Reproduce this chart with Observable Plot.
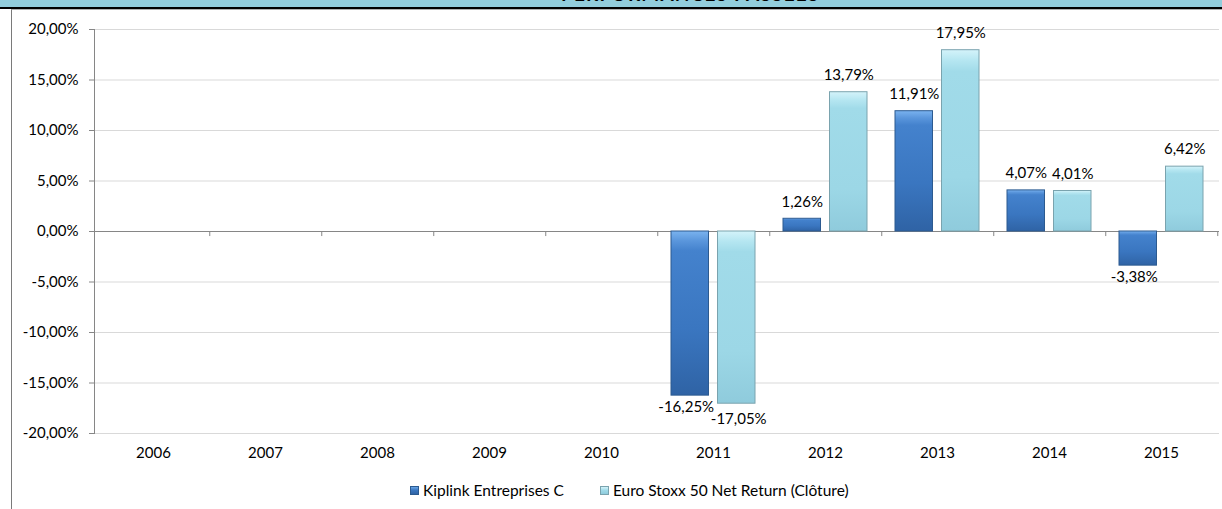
<!DOCTYPE html>
<html>
<head>
<meta charset="utf-8">
<script src="https://cdn.jsdelivr.net/npm/d3@7"></script>
<script src="https://cdn.jsdelivr.net/npm/@observablehq/plot@0.6"></script>
<style>
  html, body { margin: 0; padding: 0; background: #fff; }
  body { width: 1222px; height: 509px; position: relative; overflow: hidden; font-family: Lato, "Open Sans", sans-serif; }
  #header { position: absolute; left: 0; top: 0; width: 1222px; height: 7px; background: #92CDDC; border-bottom: 2px solid #000; overflow: hidden; }
  #header span { position: absolute; left: 561px; top: -18px; font-weight: bold; font-size: 19px; letter-spacing: 1.2px; color: #000; white-space: nowrap; }
  #frame { position: absolute; left: 11px; top: 9px; width: 1300px; height: 600px; border-left: 1.5px solid #7a7a7a; border-top: 1px solid #b0b0b0; }
  #chart { position: absolute; left: 0; top: 0; }
  #legend { position: absolute; top: 481px; left: 410px; display: flex; align-items: center; font-size: 15.5px; color: #000; white-space: nowrap; }
  .item { display: flex; align-items: center; }
  .sw { width: 9px; height: 9px; margin-right: 4px; box-sizing: border-box; }
</style>
</head>
<body>
<div id="header"><span>PERFORMANCES PASSÉES</span></div>
<div id="frame"></div>
<div id="chart"></div>
<div id="legend"></div>
<script>
// ---- data ----
const years = ["2006", "2007", "2008", "2009", "2010", "2011", "2012", "2013", "2014", "2015"];
const seriesNames = ["Kiplink Entreprises C", "Euro Stoxx 50 Net Return (Clôture)"];
const kiplink = [null, null, null, null, null, -16.25, 1.26, 11.91, 4.07, -3.38];
const euroStoxx = [null, null, null, null, null, -17.05, 13.79, 17.95, 4.01, 6.42];
const yTicks = [-20, -15, -10, -5, 0, 5, 10, 15, 20];

// ---- build long table ----
const rows = [];
years.forEach((y, i) => {
  if (kiplink[i] != null) rows.push({year: y, series: seriesNames[0], value: kiplink[i]});
  if (euroStoxx[i] != null) rows.push({year: y, series: seriesNames[1], value: euroStoxx[i]});
});

const pct = v => v.toFixed(2).replace(".", ",") + "%";
const W = 1222, H = 470;
const mL = 94, mR = 3;
const band = (W - mL - mR) / years.length;   // 112.5
const barW = 38, outer = 14;
const inner = band - outer - barW;           // inset on the far side
const off = band / 2 - outer - barW / 2;     // label offset from band centre

const K = seriesNames[0], E = seriesNames[1];
const isK = d => d.series === K, isE = d => d.series === E;

const chart = Plot.plot({
  width: W,
  height: H,
  marginLeft: mL,
  marginRight: mR,
  marginTop: 29,
  marginBottom: 37,
  style: {fontFamily: "Lato, 'Open Sans', sans-serif", fontSize: "15px", color: "#000", background: "transparent"},
  x: {type: "band", domain: years, padding: 0},
  y: {domain: [-20, 20]},
  marks: [
    Plot.gridY(yTicks, {stroke: "#d9d9d9", strokeOpacity: 1}),
    Plot.frame({anchor: "left", stroke: "#868686"}),
    Plot.ruleY([0], {stroke: "#868686"}),
    Plot.ruleX(years, {x: d => d, y1: 0, y2: -0.5, dx: band / 2, stroke: "#868686"}),
    Plot.barY(rows, {filter: isK, x: "year", y: "value", insetLeft: outer, insetRight: inner,
      fill: "url(#gradK)", stroke: "#2c5a90", strokeWidth: 1}),
    Plot.barY(rows, {filter: isE, x: "year", y: "value", insetLeft: inner, insetRight: outer,
      fill: "url(#gradE)", stroke: "#7aa3ae", strokeWidth: 1}),
    Plot.text(rows, {filter: d => isK(d) && d.value >= 0, x: "year", y: "value", text: d => pct(d.value), dx: -off, dy: -17, fill: "#000", fontSize: 15}),
    Plot.text(rows, {filter: d => isK(d) && d.value < 0, x: "year", y: "value", text: d => pct(d.value), dx: -off - 4, dy: 12, fill: "#000", fontSize: 15}),
    Plot.text(rows, {filter: d => isE(d) && d.value >= 0, x: "year", y: "value", text: d => pct(d.value), dx: off, dy: -17, fill: "#000", fontSize: 15}),
    Plot.text(rows, {filter: d => isE(d) && d.value < 0, x: "year", y: "value", text: d => pct(d.value), dx: off + 2, dy: 15, fill: "#000", fontSize: 15}),
    Plot.axisY({ticks: yTicks, tickSize: 5, tickPadding: 11, tickFormat: pct, stroke: "#868686", fill: "#000", fontSize: 15, label: null}),
    Plot.axisX({tickSize: 0, tickPadding: 14, fill: "#000", fontSize: 15, label: null})
  ]
});

// gradients for the bevelled bars
const defs = d3.select(chart).insert("defs", ":first-child");
function grad(id, stops) {
  const g = defs.append("linearGradient").attr("id", id).attr("x1", 0).attr("y1", 0).attr("x2", 0).attr("y2", 1);
  stops.forEach(([o, c]) => g.append("stop").attr("offset", o).attr("stop-color", c));
}
grad("gradK", [[0, "#7ab3ef"], [0.06, "#5a96dc"], [0.12, "#4482cd"], [0.6, "#3a76c0"], [1, "#2f63a5"]]);
grad("gradE", [[0, "#d4f3fa"], [0.06, "#b5e6f1"], [0.12, "#a1dbe9"], [0.7, "#9cd7e6"], [1, "#8fcbdc"]]);
document.getElementById("chart").appendChild(chart);

// legend
const legend = d3.select("#legend");
const swatches = [
  {name: K, fill: "linear-gradient(#6aa6e6, #3a76c0 45%, #2f63a5)", border: "#2c5a90"},
  {name: E, fill: "linear-gradient(#d4f3fa, #a1dbe9 45%, #8fcbdc)", border: "#7aa3ae"}
];
swatches.forEach((s, i) => {
  const it = legend.append("div").attr("class", "item").style("margin-left", i ? "36px" : "0");
  it.append("div").attr("class", "sw").style("background", s.fill).style("border", `1px solid ${s.border}`);
  it.append("span").text(s.name);
});
</script>
</body>
</html>
